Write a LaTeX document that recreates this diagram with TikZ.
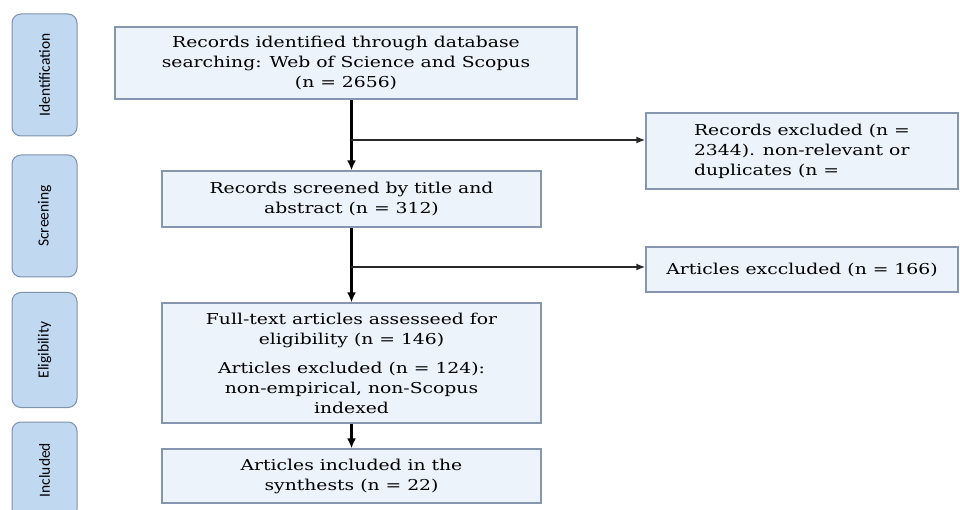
\documentclass[tikz,border=0pt]{standalone}
\usepackage{fontspec}
\setmainfont{DejaVu Serif}[FakeStretch=1.25]
\newfontfamily\stagefont{Carlito}
\usetikzlibrary{arrows.meta, positioning, calc}
\definecolor{stageblue}{RGB}{192, 216, 240}
\definecolor{stageedge}{RGB}{125, 145, 170}
\definecolor{boxblue}{RGB}{236, 243, 250}
\definecolor{boxedge}{RGB}{135, 150, 175}
\definecolor{linegray}{RGB}{40, 40, 40}

\tikzset{
  stagebox/.style={draw=stageedge, fill=stageblue, rounded corners=9pt, rotate=90, minimum height=65pt, inner sep=0pt, line width=1pt, font=\stagefont\fontsize{15.5}{17}\selectfont},
  flowbox/.style={draw=boxedge, fill=boxblue, line width=1.2pt, inner sep=0pt, align=center, font=\fontsize{15}{20}\selectfont},
  mainarrow/.style={-{Latex[length=10pt, width=9pt]}, line width=2.8pt},
  sidearrow/.style={-{Latex[length=9pt, width=7pt]}, line width=1.7pt, draw=linegray}
}

\begin{document}
\begin{tikzpicture}[x=1pt, y=-1pt]
  \useasboundingbox (0,0) rectangle (960,510);

  % Stage labels
  \node[stagebox, minimum width=122pt] (ident) at (44.5, 75) {Identification};
  \node[stagebox, minimum width=122pt] (screen) at (44.5, 216) {Screening};
  \node[stagebox, minimum width=115pt] (elig) at (44.5, 350) {Eligibility};
  \node[stagebox, minimum width=96pt] (incl) at (44.5, 470) {Included};

  % Main column
  \node[flowbox, minimum width=462pt, minimum height=72pt] (records) at (346, 63) {
    Records identified through database\\
    searching: Web of Science and Scopus\\
    (n = 2656)};
  \node[flowbox, minimum width=379pt, minimum height=56pt] (screened) at (351.5, 199) {
    Records screened by title and\\
    abstract (n = 312)};
  \node[flowbox, minimum width=379pt, minimum height=120pt] (fulltext) at (351.5, 363) {
    Full-text articles assesseed for\\
    eligibility (n = 146)\\[9pt]
    Articles excluded (n = 124):\\
    non-empirical, non-Scopus\\
    indexed};
  \node[flowbox, minimum width=379pt, minimum height=54pt] (included) at (351.5, 476) {
    Articles included in the\\
    synthests (n = 22)};

  % Exclusions
  \node[flowbox, minimum width=312pt, minimum height=76pt, align=left] (excl1) at (802, 151) {
    Records excluded (n =\\
    2344). non-relevant or\\
    duplicates (n =};
  \node[flowbox, minimum width=312pt, minimum height=45pt] (excl2) at (802, 269.5) {
    Articles exccluded (n = 166)};

  % Connectors
  \coordinate (split1) at (351, 140);
  \coordinate (split2) at (351, 267);
  \draw[mainarrow] (records.south -| screened.north) -- (screened.north);
  \draw[mainarrow] (screened.south) -- (fulltext.north);
  \draw[mainarrow] (fulltext.south) -- (included.north);
  \draw[sidearrow] (split1) -- (split1 -| excl1.west);
  \draw[sidearrow] (split2) -- (split2 -| excl2.west);
\end{tikzpicture}
\end{document}
